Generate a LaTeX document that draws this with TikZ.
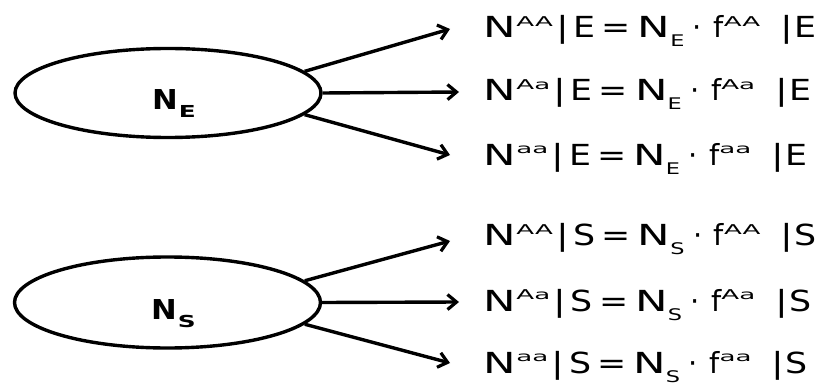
\documentclass[tikz,border=0pt]{standalone}
\usepackage{fontspec}
\setmainfont{DejaVu Sans}
\usetikzlibrary{shapes.geometric,arrows.meta}

% widened glyphs of the running text
\newcommand\wide[2]{\scalebox{#1}[1]{#2}}
% superscript genotype, flattened and wide, top at cap height
\newcommand\upidx[1]{\raisebox{11.4pt}{\scalebox{1.45}[0.75]{\fontsize{18}{18}\selectfont #1}}}
% subscript population letter
\newcommand\dnidx[1]{\raisebox{-9pt}{\scalebox{1.4}[1]{\fontsize{16}{16}\selectfont #1}}}
% one line of the split  N^g | X = N_X . f^g | X
\newcommand\splitline[2]{%
  \wide{1.5}{N}\upidx{#1}\hspace*{3.5pt}\wide{1.3}{|}\hspace*{4.5pt}\wide{1.2}{#2}%
  \hspace*{6pt}\wide{1.2}{=}\hspace*{7pt}\wide{1.5}{N}\dnidx{#2}%
  \hspace*{8.5pt}\textperiodcentered\hspace*{11.5pt}f\upidx{#1}%
  \hspace*{20pt}\wide{1.3}{|}\hspace*{1.5pt}\wide{1.2}{#2}}
% bold label inside a population ellipse
\newcommand\poplabel[1]{\smash{\raisebox{-17pt}{\hspace*{12pt}\scalebox{1.12}[1]{N}\hspace*{1pt}%
  \raisebox{-8pt}{\scalebox{1.5}[1]{\fontsize{16.5}{16.5}\selectfont #1}}}}}

\tikzset{
  pop/.style={draw, ellipse, line width=3.4pt, minimum width=306pt, minimum height=89pt, inner sep=0pt,
              font=\fontsize{27.4}{27.4}\selectfont\bfseries},
  flow/.style={line width=3.4pt, -{Straight Barb[length=9pt,width=15pt,line width=3.2pt]}},
  eqn/.style={anchor=base west, inner sep=0pt, font=\fontsize{29}{29}\selectfont}
}

\begin{document}
\begin{tikzpicture}[x=1pt,y=-1pt]
  \useasboundingbox (0,0) rectangle (819,385);

  % population E
  \node[pop] (E) at (168,93) {\poplabel{E}};
  \coordinate (e1) at (450,29);
  \coordinate (e2) at (459,92);
  \coordinate (e3) at (450,155);
  \node[eqn] (tE1) at (483.7,37.5) {\splitline{AA}{E}};
  \node[eqn] (tE2) at (483.7,101) {\splitline{Aa}{E}};
  \node[eqn] (tE3) at (483.7,165) {\splitline{aa}{E}};
  \draw[flow] (E.9) -- (e1);
  \draw[flow] (E.east) -- (e2);
  \draw[flow] (E.-9) -- (e3);

  % population S
  \node[pop, minimum height=91pt] (S) at (167.5,302.5) {\poplabel{S}};
  \coordinate (s1) at (450,241);
  \coordinate (s2) at (459,302);
  \coordinate (s3) at (450,363);
  \node[eqn] (tS1) at (483.7,245.5) {\splitline{AA}{S}};
  \node[eqn] (tS2) at (483.7,311) {\splitline{Aa}{S}};
  \node[eqn] (tS3) at (483.7,373) {\splitline{aa}{S}};
  \draw[flow] (S.9) -- (s1);
  \draw[flow] (S.east) -- (s2);
  \draw[flow] (S.-9) -- (s3);
\end{tikzpicture}
\end{document}
